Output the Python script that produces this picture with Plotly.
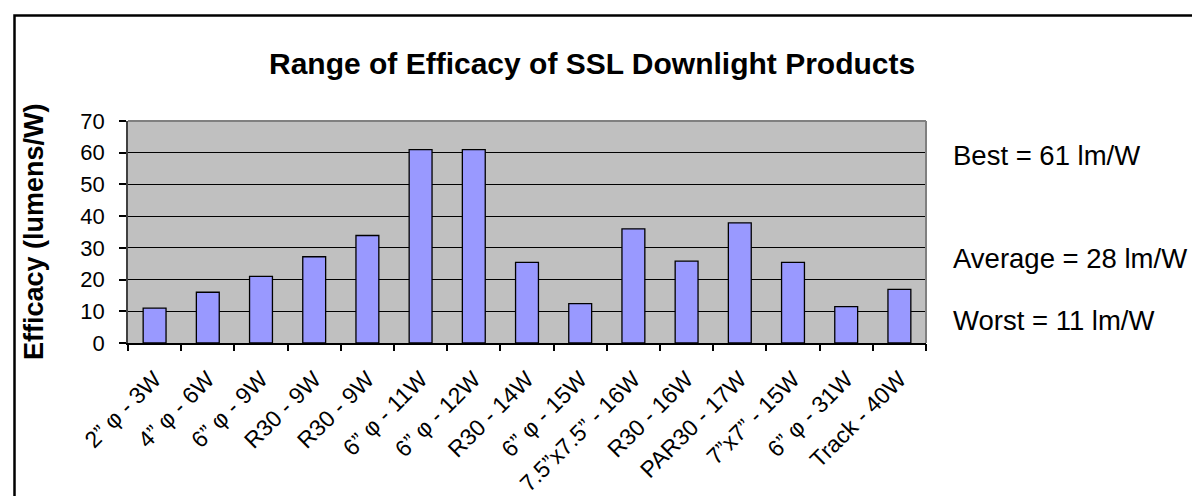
import plotly.graph_objects as go

categories = ["2” φ - 3W", "4” φ - 6W", "6” φ - 9W", "R30 - 9W", "R30 - 9W",
              "6” φ - 11W", "6” φ - 12W", "R30 - 14W", "6” φ - 15W",
              "7.5”x7.5” - 16W", "R30 - 16W", "PAR30 - 17W", "7”x7” - 15W",
              "6” φ - 31W", "Track - 40W"]
efficacy = [11.0, 16.0, 21.0, 27.2, 33.9, 61.0, 61.0, 25.4, 12.4, 36.0, 25.8, 37.9, 25.4, 11.5, 16.9]
summary_labels = ["Best = 61 lm/W", "Average = 28 lm/W", "Worst = 11 lm/W"]
y_ticks = [0, 10, 20, 30, 40, 50, 60, 70]

W, H = 1200, 496
ML, MR, MT, MB = 120, 282, 113, 161
PW, PH = W - ML - MR, H - MT - MB

def px(x):
    return (x - ML) / PW

def py(y):
    return (H - MB - y) / PH

FONT = "Liberation Sans, Arial, sans-serif"
idx = list(range(len(categories)))

fig = go.Figure()
fig.add_trace(go.Bar(
    x=idx, y=efficacy,
    marker=dict(color="#9999FF", line=dict(color="black", width=1.3)),
    showlegend=False, hoverinfo="y",
))
# invisible trace to anchor the boundary-tick axis
fig.add_trace(go.Scatter(x=[-0.5, len(categories) - 0.5], y=[0, 0], xaxis="x2",
                         mode="markers", marker=dict(opacity=0), showlegend=False,
                         hoverinfo="skip"))

fig.update_layout(
    width=W, height=H,
    margin=dict(l=ML, r=MR, t=MT, b=MB, autoexpand=False),
    paper_bgcolor="white", plot_bgcolor="#C0C0C0",
    bargap=0.57,
    font=dict(family=FONT, color="black"),
    xaxis=dict(
        range=[-0.5, len(categories) - 0.5],
        tickmode="array", tickvals=idx, ticktext=categories,
        tickangle=-45, tickfont=dict(size=23, family=FONT, color="black"),
        ticks="", showgrid=False, zeroline=False,
        showline=True, linecolor="black", linewidth=1.5,
        ticklabelstandoff=12,
    ),
    xaxis2=dict(
        overlaying="x", range=[-0.5, len(categories) - 0.5],
        tickmode="linear", tick0=-0.5, dtick=1,
        ticks="outside", ticklen=7, tickwidth=1.5, tickcolor="black",
        showticklabels=False, showgrid=False, zeroline=False, showline=False,
        side="bottom", anchor="y",
    ),
    yaxis=dict(
        range=[0, 70], tickmode="array", tickvals=y_ticks,
        tickfont=dict(size=22, family=FONT, color="black"),
        ticks="outside", ticklen=7, tickwidth=1.5, tickcolor="black",
        showgrid=True, gridcolor="black", gridwidth=1,
        zeroline=False, showline=True, linecolor="#404040", linewidth=1.5,
        ticklabelstandoff=10,
    ),
    shapes=[
        dict(type="line", xref="paper", yref="paper", x0=0, x1=1, y0=1, y1=1,
             line=dict(color="#808080", width=2)),
        dict(type="line", xref="paper", yref="paper", x0=1, x1=1, y0=0, y1=1,
             line=dict(color="#808080", width=2)),
        dict(type="rect", xref="paper", yref="paper",
             x0=px(6.5), x1=px(1210), y0=py(7.5), y1=py(510),
             line=dict(color="black", width=2.5), fillcolor="rgba(0,0,0,0)"),
    ],
)

annotations = [
    dict(text="<b>Range of Efficacy of SSL Downlight Products</b>",
         x=px(583.5), y=py(56), xanchor="center", yanchor="middle",
         font=dict(size=30, family=FONT, color="black")),
    dict(text="<b>Efficacy (lumens/W)</b>", textangle=-90,
         x=px(26), y=py(224), xanchor="center", yanchor="middle",
         font=dict(size=27, family=FONT, color="black")),
]
for label, ypos in zip(summary_labels, [147, 250, 312]):
    annotations.append(dict(text=label, x=px(943), y=py(ypos), xanchor="left",
                            yanchor="middle", font=dict(size=27.5, family=FONT, color="black")))
for a in annotations:
    a.update(xref="paper", yref="paper", showarrow=False)
fig.update_layout(annotations=annotations)

fig.write_html("out.html")
